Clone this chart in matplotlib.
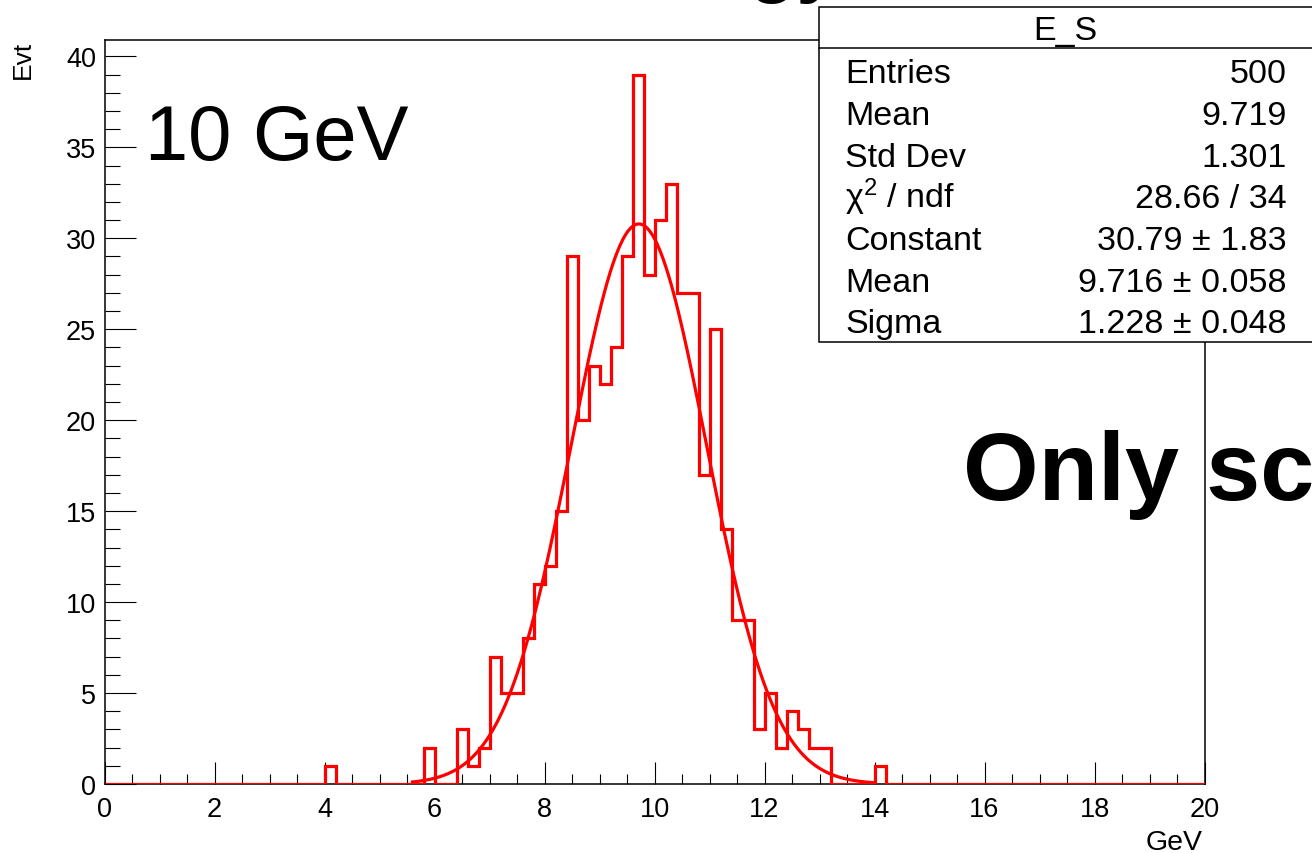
import numpy as np
import matplotlib
matplotlib.use("Agg")
import matplotlib.pyplot as plt
from matplotlib.ticker import MultipleLocator
from matplotlib.patches import Rectangle
from matplotlib.lines import Line2D

plt.rcParams['font.family'] = ['Liberation Sans', 'DejaVu Sans']
plt.rcParams['mathtext.fontset'] = 'custom'
plt.rcParams['mathtext.rm'] = 'Liberation Sans'
plt.rcParams['mathtext.it'] = 'Liberation Sans:italic'

# histogram E_S : 100 bins of 0.2 GeV from 0 to 20
x_lo, x_hi, n_bins = 0.0, 20.0, 100
counts = [
    0, 0, 0, 0, 0, 0, 0, 0, 0, 0,          # 0.0 - 1.8
    0, 0, 0, 0, 0, 0, 0, 0, 0, 0,          # 2.0 - 3.8
    1, 0, 0, 0, 0, 0, 0, 0, 0, 2,          # 4.0 - 5.8
    0, 0, 3, 1, 2, 7, 5, 5, 8, 11,         # 6.0 - 7.8
    12, 15, 29, 20, 23, 22, 24, 29, 39, 28,  # 8.0 - 9.8
    31, 33, 27, 27, 17, 25, 14, 9, 9, 3,   # 10.0 - 11.8
    5, 2, 4, 3, 2, 2, 0, 0, 0, 0,          # 12.0 - 13.8
    1, 0, 0, 0, 0, 0, 0, 0, 0, 0,          # 14.0 - 15.8
    0, 0, 0, 0, 0, 0, 0, 0, 0, 0,          # 16.0 - 17.8
    0, 0, 0, 0, 0, 0, 0, 0, 0, 0,          # 18.0 - 19.8
]

# gaussian fit result
fit_const, fit_mean, fit_sigma = 30.79, 9.716, 1.228
fit_range = (5.6, 14.0)

stat_title = "E_S"
stat_names = ["Entries", "Mean", "Std Dev", "\u03c7$^{2}$ / ndf",
              "Constant", "Mean", "Sigma"]
stat_values = ["500", "9.719", "1.301", "28.66 / 34",
               "30.79 \u00b1 1.83", "9.716 \u00b1 0.058", "1.228 \u00b1 0.048"]

W, H = 1312, 854


def fx(px):
    return px / W


def fy(py):
    return 1 - py / H


fig = plt.figure(figsize=(W / 100, H / 100), dpi=100)
fig.patch.set_facecolor('white')

# frame: x=0 at px 104.5, x=20 at 1204.5 ; y=0 at px 785, 18.19 px per count
ax = fig.add_axes([fx(104.5), fy(785), (1204.5 - 104.5) / W, (785 - 41) / H])
ax.set_xlim(x_lo, x_hi)
ax.set_ylim(0, (785 - 41) / 18.19)

edges = np.linspace(x_lo, x_hi, n_bins + 1)
ax.stairs(counts, edges, color='#ff0000', linewidth=2.3, baseline=0, zorder=3)

xf = np.linspace(fit_range[0], fit_range[1], 300)
yf = fit_const * np.exp(-0.5 * ((xf - fit_mean) / fit_sigma) ** 2)
ax.plot(xf, yf, color='#ff0000', linewidth=2.3, zorder=4)

ax.xaxis.set_major_locator(MultipleLocator(2))
ax.xaxis.set_minor_locator(MultipleLocator(0.5))
ax.yaxis.set_major_locator(MultipleLocator(5))
ax.yaxis.set_minor_locator(MultipleLocator(1))
ax.tick_params(axis='x', which='major', direction='in', length=15.5, width=0.8,
               pad=8.5, labelsize=19.5)
ax.tick_params(axis='x', which='minor', direction='in', length=7.2, width=0.8)
ax.tick_params(axis='y', which='major', direction='in', length=22, width=0.8,
               pad=6, labelsize=19.5)
ax.tick_params(axis='y', which='minor', direction='in', length=11, width=0.8)
for s in ax.spines.values():
    s.set_linewidth(1.1)

# axis titles (ROOT style, aligned at the axis ends)
fig.text(fx(1203), fy(850), "GeV", fontsize=20.5, ha='right', va='baseline')
fig.text(fx(23), fy(41), "Evt", fontsize=19, rotation=90, ha='center', va='top')

# stats box
box_l, box_r, box_t, box_b, box_sep = 819.3, 1313, 8.3, 343.3, 49.3
fig.add_artist(Rectangle((fx(box_l), fy(box_b)), (box_r - box_l) / W,
                         (box_b - box_t) / H, transform=fig.transFigure,
                         facecolor='white', edgecolor='black', linewidth=1.1,
                         zorder=10))
fig.add_artist(Line2D([fx(box_l), fx(box_r)], [fy(box_sep), fy(box_sep)],
                      transform=fig.transFigure, color='black', linewidth=1.1,
                      zorder=11))
fig.text(fx(1065), fy(40), stat_title, fontsize=24.5, ha='center',
         va='baseline', zorder=12)
row_base = [83.3, 125, 166.7, 208.3, 250, 291.7, 333.3]
for name, val, yb in zip(stat_names, stat_values, row_base):
    fig.text(fx(845), fy(yb), name, fontsize=24.5, ha='left', va='baseline',
             zorder=12)
    fig.text(fx(1287), fy(yb), val, fontsize=24.5, ha='right', va='baseline',
             zorder=12)

# slide annotations
fig.text(fx(145), fy(160), "10 GeV", fontsize=56, ha='left', va='baseline')
fig.text(fx(963), fy(500), "Only sc", fontsize=70, fontweight='bold',
         ha='left', va='baseline', zorder=13)
fig.text(fx(840), fy(-12), "Energy", fontsize=56, fontweight='bold',
         ha='right', va='baseline', zorder=1)

fig.savefig("out.png", dpi=100)
